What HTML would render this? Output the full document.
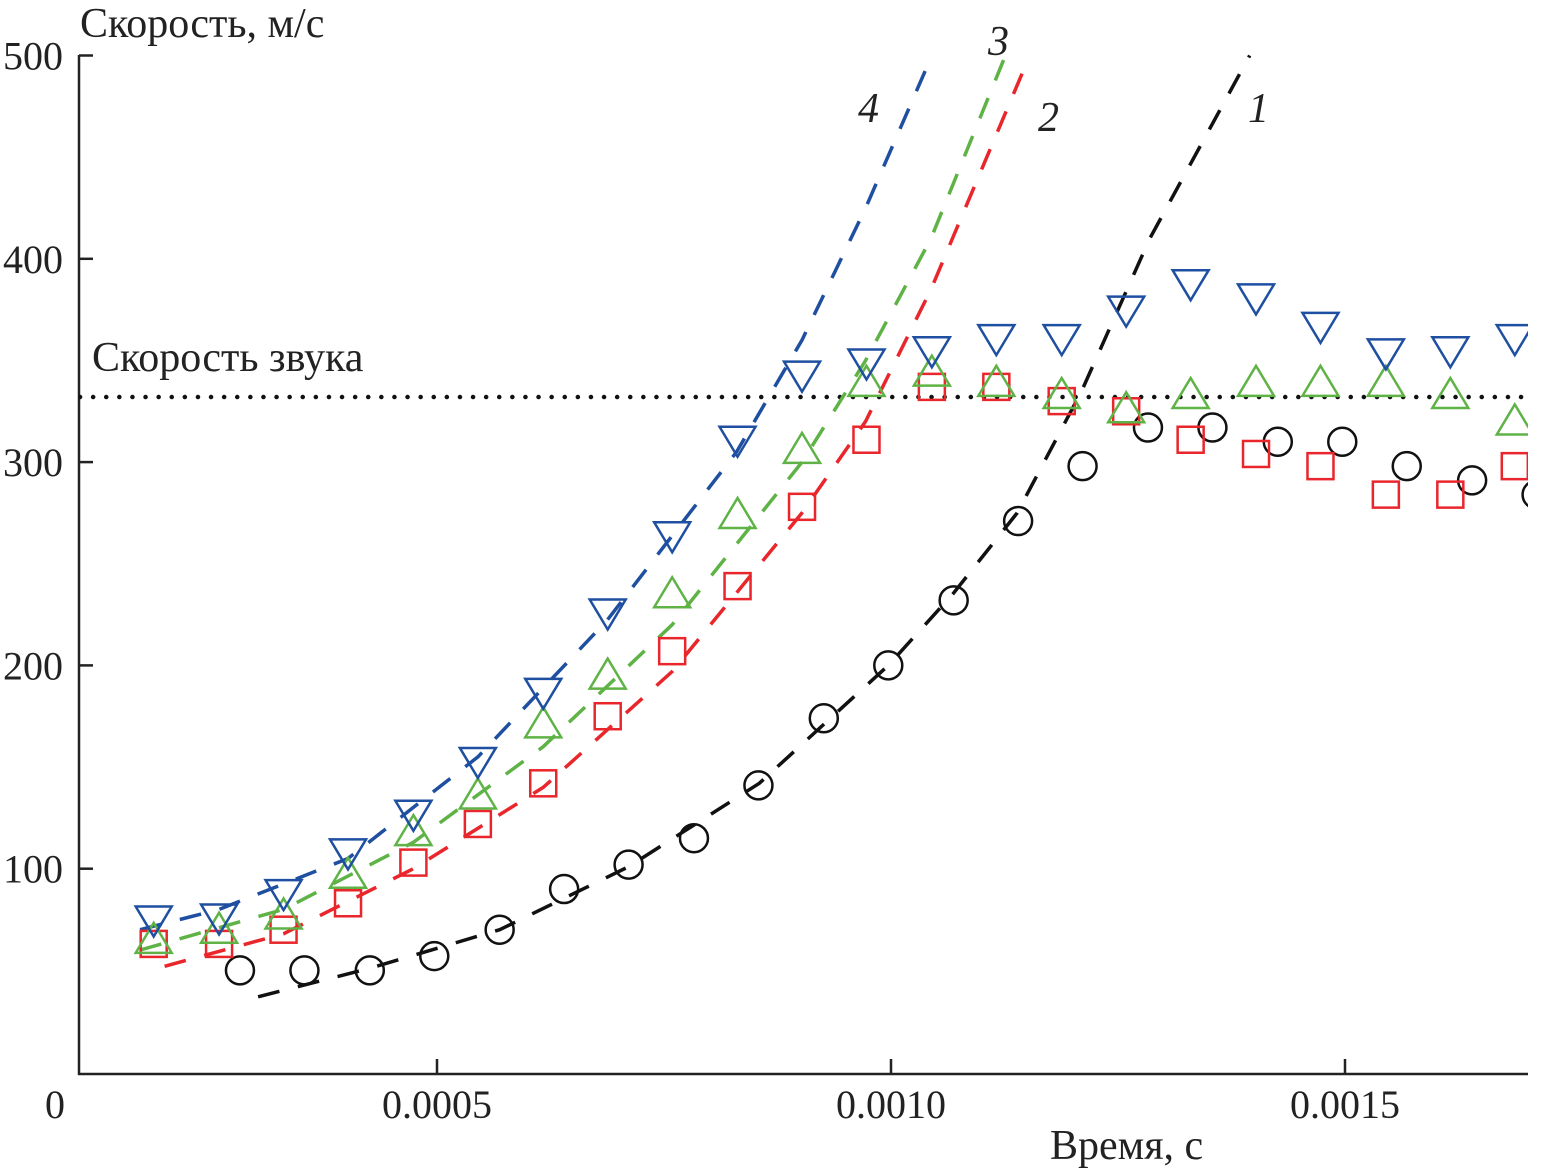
<!DOCTYPE html>
<html><head><meta charset="utf-8">
<style>
html,body{margin:0;padding:0;background:#fff;}
svg{display:block;}
text{font-family:"Liberation Serif",serif;fill:#222;}
</style></head>
<body>
<svg id="chart" width="1543" height="1175" viewBox="0 0 1543 1175" xmlns="http://www.w3.org/2000/svg">
<defs><clipPath id="plot"><rect x="79" y="0" width="1449" height="1074"/></clipPath></defs>
<g id="axes"></g>
<g id="series" clip-path="url(#plot)"></g>
<g id="labels"></g>
</svg>
<script>
// times in ms
const circleT = [0.283,0.354,0.426,0.497,0.569,0.640,0.711,0.783,0.854,0.926,0.997,1.069,1.140,1.211,1.283,1.354,1.426,1.497,1.568,1.640,1.711];
const circleV = [50,50,50,57,70,90,102,115,141,174,200,232,271,298,317,317,310,310,298,291,284];
const markT = [0.188,0.260,0.331,0.402,0.474,0.545,0.617,0.688,0.759,0.831,0.902,0.973,1.045,1.116,1.188,1.259,1.330,1.402,1.473,1.545,1.616,1.687];
const squareV = [63,63,70,83,103,122,142,175,207,239,278,311,337,337,330,325,311,304,298,284,284,298];
const upV = [65,70,77,97,118,136,171,195,235,274,306,339,344,339,333,326,333,339,339,339,333,320];
const downV = [75,76,88,108,127,153,187,226,264,311,343,349,355,361,361,375,388,381,367,354,355,361];
const fit1T = [0.303,0.426,0.569,0.711,0.855,0.997,1.068,1.139,1.210,1.285,1.395];
const fit1V = [37,51,70,101,142,200,235,275,335,410,500];
const fit2T = [0.200,0.331,0.474,0.617,0.759,0.902,0.972,1.044,1.148];
const fit2V = [52,68,100,140,197,275,320,385,495];
const fit3T = [0.173,0.331,0.474,0.617,0.759,0.902,0.972,1.044,1.126];
const fit3V = [60,80,113,160,220,300,350,410,500];
const fit4T = [0.173,0.260,0.402,0.545,0.687,0.830,0.902,0.972,1.045];
const fit4V = [70,80,105,155,222,305,360,425,500];
const soundV = 332;
const yTicks = [100,200,300,400,500];
const xTicks = [0.5,1.0,1.5];
const xTickLabels = ["0.0005","0.0010","0.0015"];

const X = t => -17 + t*908;
const Y = v => 1072 - v*2.033;
const NS = "http://www.w3.org/2000/svg";
function mk(tag, attrs, parent){const e=document.createElementNS(NS,tag);for(const k in attrs)e.setAttribute(k,attrs[k]);parent.appendChild(e);return e;}
const axes=document.getElementById('axes'), series=document.getElementById('series'), labels=document.getElementById('labels');

let e;
e=mk('line',{x1:79,y1:55,x2:79,y2:1075,stroke:'#222','stroke-width':2.5},axes);


e=mk('line',{x1:78,y1:1074,x2:1528,y2:1074,stroke:'#222','stroke-width':2.5},axes);


yTicks.forEach(v=>{
  e=mk('line',{x1:79,y1:Y(v),x2:93,y2:Y(v),stroke:'#222','stroke-width':2.5},axes);
  
  
  e=mk('text',{x:63,y:Y(v)+14,'font-size':40,'text-anchor':'end'},axes);
  e.textContent=v;
  
  
});
e=mk('text',{x:55,y:1118,'font-size':40,'text-anchor':'middle'},axes);
e.textContent='0';


xTicks.forEach((t,i)=>{
  e=mk('line',{x1:X(t),y1:1074,x2:X(t),y2:1059,stroke:'#222','stroke-width':2.5},axes);
  
  
  e=mk('text',{x:X(t),y:1118,'font-size':40,'text-anchor':'middle'},axes);
  e.textContent=xTickLabels[i];
  
  
});
e=mk('text',{x:80,y:37,'font-size':42},labels);
e.textContent='Скорость, м/с';


e=mk('text',{x:1050,y:1159,'font-size':42},labels);
e.textContent='Время, с';


e=mk('text',{x:92,y:371,'font-size':42},labels);
e.textContent='Скорость звука';



e=mk('line',{x1:80,y1:Y(soundV),x2:1528,y2:Y(soundV),stroke:'#111','stroke-width':4.5,'stroke-dasharray':'0.1 13','stroke-linecap':'round'},series);



function fit(T,V,color,name){
  const d=T.map((t,i)=>(i?'L':'M')+X(t).toFixed(1)+' '+Y(V[i]).toFixed(1)).join(' ');
  const p=mk('path',{d:d,fill:'none',stroke:color,'stroke-width':3.5,'stroke-dasharray':'22 19','stroke-linejoin':'round'},series);
  
  
}
fit(fit1T,fit1V,'#111','fit-curve-1');
fit(fit2T,fit2V,'#e8262c','fit-curve-2');
fit(fit3T,fit3V,'#5fb346','fit-curve-3');
fit(fit4T,fit4V,'#1f4fa0','fit-curve-4');

circleT.forEach((t,i)=>{
  const c=mk('circle',{cx:X(t),cy:Y(circleV[i]),r:14,fill:'none',stroke:'#111','stroke-width':2.5},series);
  
  
});
markT.forEach((t,i)=>{
  const x=X(t), y=Y(squareV[i]);
  const s=mk('rect',{x:x-13,y:y-13,width:26,height:26,fill:'none',stroke:'#e8262c','stroke-width':2.5},series);
  
  
});
markT.forEach((t,i)=>{
  const x=X(t), y=Y(upV[i]);
  const p=mk('polygon',{points:`${x},${y-17} ${x-18},${y+13} ${x+18},${y+13}`,fill:'none',stroke:'#5fb346','stroke-width':2.5},series);
  
  
});
markT.forEach((t,i)=>{
  const x=X(t), y=Y(downV[i]);
  const p=mk('polygon',{points:`${x},${y+17} ${x-18},${y-13} ${x+18},${y-13}`,fill:'none',stroke:'#1f4fa0','stroke-width':2.5},series);
  
  
});

[['4',858,122,'curve-label-4'],['3',988,55,'curve-label-3'],['2',1038,131,'curve-label-2'],['1',1248,122,'curve-label-1']].forEach(a=>{
  const t=mk('text',{x:a[1],y:a[2],'font-size':42,'font-style':'italic'},labels);
  t.textContent=a[0];
  
  
});
</script>
</body></html>
